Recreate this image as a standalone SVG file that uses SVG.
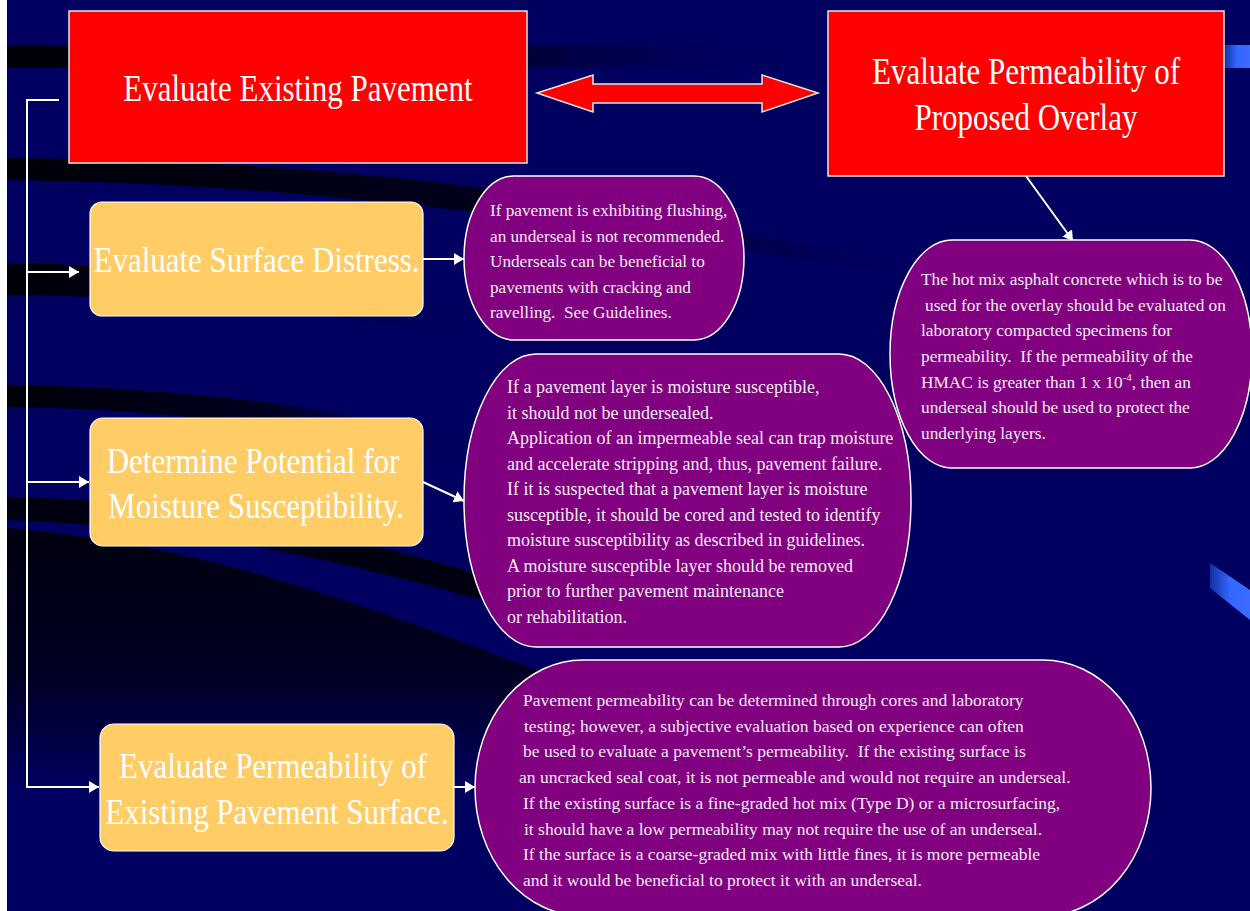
<svg xmlns="http://www.w3.org/2000/svg" width="1250" height="911" viewBox="0 0 1250 911">
<style>
.red{fill:#FF0000;stroke:#E6E6E6;stroke-width:1.5}
.orange{fill:#FFCC66;stroke:#FFFFFF;stroke-width:1.2}
.purple{fill:#800080;stroke:#FFFFFF;stroke-width:1.5}
.title{font-family:"Liberation Serif","Times New Roman",serif;font-size:31px;fill:#FFFFFF;text-anchor:middle}
.body{font-family:"Liberation Serif","Times New Roman",serif;font-size:17.5px;fill:#F6EAF6}
.conn{stroke:#FFFFFF;stroke-width:2;fill:none}
</style>
<defs>
<marker id="ah" markerUnits="userSpaceOnUse" markerWidth="10" markerHeight="12" viewBox="0 0 10 12" refX="10" refY="6" orient="auto">
<path d="M0,0 L10,6 L0,12 Z" fill="#FFFFFF"/>
</marker>
<linearGradient id="bandH" x1="0" y1="0" x2="1" y2="0">
<stop offset="0" stop-color="#000008"/>
<stop offset="0.55" stop-color="#000020"/>
<stop offset="1" stop-color="#000066" stop-opacity="0"/>
</linearGradient>
<linearGradient id="bandV" x1="0" y1="0" x2="0" y2="1">
<stop offset="0" stop-color="#000010"/>
<stop offset="0.55" stop-color="#000022"/>
<stop offset="1" stop-color="#000060"/>
</linearGradient>
<linearGradient id="blueBar" x1="0" y1="0" x2="1" y2="0">
<stop offset="0" stop-color="#1030A0"/>
<stop offset="0.5" stop-color="#3366FF"/>
<stop offset="1" stop-color="#3A6CFF"/>
</linearGradient>
</defs>

<g id="background">
<rect x="0" y="0" width="1250" height="911" fill="#FFFFFF"/>
<rect x="7" y="0" width="1243" height="911" fill="#000060"/>
<path d="M7,45 L820,45 L820,68 L7,68 Z" fill="url(#bandH)"/>
<path d="M7,158 C200,160 400,172 560,200 C700,224 850,250 1000,285 L1000,292 C850,264 700,244 560,224 C400,200 200,182 7,180 Z" fill="url(#bandH)"/>
<path d="M7,263 C150,265 300,280 480,315 L480,340 C300,306 150,296 7,295 Z" fill="url(#bandH)"/>
<path d="M7,385 C150,387 300,400 480,440 L480,462 C300,426 150,408 7,407 Z" fill="url(#bandH)"/>
<path d="M7,497 C150,500 300,520 480,575 L480,600 C300,548 150,525 7,520 Z" fill="#000010"/>
<path d="M7,528 C150,540 300,575 560,680 L560,790 L7,790 Z" fill="url(#bandV)"/>
<rect x="1224" y="45" width="26" height="23" fill="url(#blueBar)"/>
<path d="M1210,563 L1250,590 L1250,620 L1210,588 Z" fill="url(#blueBar)"/>
</g>

<g id="connectors">
<path class="conn" d="M59,100 H27 V787 H99" marker-end="url(#ah)"/>
<path class="conn" d="M27,272 H79" marker-end="url(#ah)"/>
<path class="conn" d="M27,482 H89" marker-end="url(#ah)"/>
<path class="conn" d="M423,259 H464" marker-end="url(#ah)"/>
<path class="conn" d="M423,482 L464,501" marker-end="url(#ah)"/>
<path class="conn" d="M454,787 H475" marker-end="url(#ah)"/>
<path class="conn" d="M1026,176 L1073,241" marker-end="url(#ah)"/>
<polygon class="red" points="537,93 593,75 593,84 762,84 762,75 818,93 762,112 762,103 593,103 593,112"/>
</g>

<g id="node-existing">
<rect class="red" x="69" y="11" width="458" height="152"/>
<text class="title" transform="translate(298,101) scale(1,1.22)">Evaluate Existing Pavement</text>
</g>

<g id="node-overlay">
<rect class="red" x="828" y="11" width="396" height="165"/>
<text class="title" transform="translate(1026,84) scale(1,1.22)">Evaluate Permeability of</text>
<text class="title" transform="translate(1026,130) scale(1,1.22)">Proposed Overlay</text>
</g>

<g id="node-surface-distress">
<rect class="orange" x="90" y="202" width="333" height="114" rx="12" ry="12"/>
<text class="title" transform="translate(256.5,272) scale(1,1.17)">Evaluate Surface Distress.</text>
</g>

<g id="node-moisture">
<rect class="orange" x="90" y="418" width="333" height="128" rx="13" ry="13"/>
<text class="title" transform="translate(253,473) scale(1,1.17)">Determine Potential for</text>
<text class="title" transform="translate(256,518) scale(1,1.17)">Moisture Susceptibility.</text>
</g>

<g id="node-permeability-existing">
<rect class="orange" x="100" y="724" width="354" height="127" rx="14" ry="14"/>
<text class="title" transform="translate(273,778) scale(1,1.17)">Evaluate Permeability of</text>
<text class="title" transform="translate(277,824) scale(1,1.17)">Existing Pavement Surface.</text>
</g>

<g id="note-surface-distress">
<rect class="purple" x="464" y="176" width="280" height="164" rx="50" ry="82"/>
<text class="body" style="font-size:17.2px">
<tspan x="490" y="216">If pavement is exhibiting flushing,</tspan>
<tspan x="490" y="241.5">an underseal is not recommended.</tspan>
<tspan x="490" y="267">Underseals can be beneficial to</tspan>
<tspan x="490" y="292.5">pavements with cracking and</tspan>
<tspan x="490" y="318">ravelling.&#160; See Guidelines.</tspan>
</text>
</g>

<g id="note-moisture">
<rect class="purple" x="464" y="354" width="447" height="293" rx="72" ry="146"/>
<text class="body" style="font-size:18px">
<tspan x="507" y="393">If a pavement layer is moisture susceptible,</tspan>
<tspan x="507" y="418.5">it should not be undersealed.</tspan>
<tspan x="507" y="444">Application of an impermeable seal can trap moisture</tspan>
<tspan x="507" y="469.5">and accelerate stripping and, thus, pavement failure.</tspan>
<tspan x="507" y="495">If it is suspected that a pavement layer is moisture</tspan>
<tspan x="507" y="520.5">susceptible, it should be cored and tested to identify</tspan>
<tspan x="507" y="546">moisture susceptibility as described in guidelines.</tspan>
<tspan x="507" y="571.5">A moisture susceptible layer should be removed</tspan>
<tspan x="507" y="597">prior to further pavement maintenance</tspan>
<tspan x="507" y="622.5">or rehabilitation.</tspan>
</text>
</g>

<g id="note-overlay">
<rect class="purple" x="890" y="240" width="362" height="228" rx="62" ry="114"/>
<text class="body" style="font-size:17.3px">
<tspan x="921" y="285">The hot mix asphalt concrete which is to be</tspan>
<tspan x="925" y="310.7">used for the overlay should be evaluated on</tspan>
<tspan x="921" y="336.3">laboratory compacted specimens for</tspan>
<tspan x="921" y="362">permeability.&#160; If the permeability of the</tspan>
<tspan x="921" y="387.7">HMAC is greater than 1 x 10<tspan font-size="11" dy="-7">-4</tspan><tspan dy="7">, then an</tspan></tspan>
<tspan x="921" y="413.3">underseal should be used to protect the</tspan>
<tspan x="921" y="439">underlying layers.</tspan>
</text>
</g>

<g id="note-permeability-existing">
<rect class="purple" x="475" y="660" width="676" height="256" rx="108" ry="128"/>
<text class="body">
<tspan x="523" y="706">Pavement permeability can be determined through cores and laboratory</tspan>
<tspan x="524" y="731.7">testing; however, a subjective evaluation based on experience can often</tspan>
<tspan x="523" y="757.4">be used to evaluate a pavement’s permeability.&#160; If the existing surface is</tspan>
<tspan x="519" y="783">an uncracked seal coat, it is not permeable and would not require an underseal.</tspan>
<tspan x="523" y="808.8">If the existing surface is a fine-graded hot mix (Type D) or a microsurfacing,</tspan>
<tspan x="524" y="834.5">it should have a low permeability may not require the use of an underseal.</tspan>
<tspan x="523" y="860">If the surface is a coarse-graded mix with little fines, it is more permeable</tspan>
<tspan x="523" y="886">and it would be beneficial to protect it with an underseal.</tspan>
</text>
</g>
</svg>
